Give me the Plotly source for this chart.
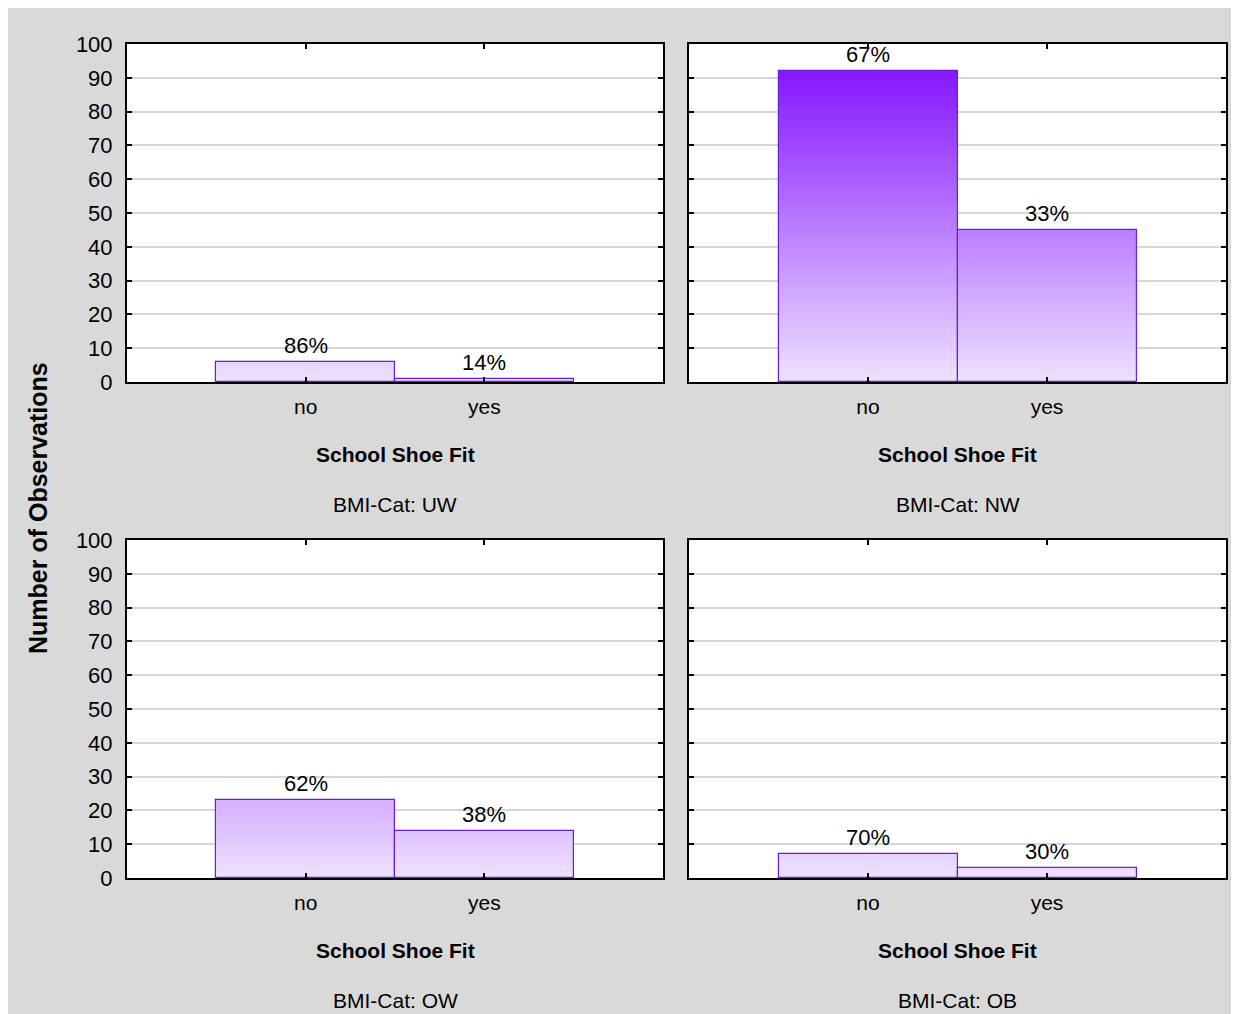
import plotly.graph_objects as go
from plotly.subplots import make_subplots

# data
categories = ["no", "yes"]
panel_names = ["UW", "NW", "OW", "OB"]
uw_counts = [6, 1]
nw_counts = [92, 45]
ow_counts = [23, 14]
ob_counts = [7, 3]
y_ticks = [0, 10, 20, 30, 40, 50, 60, 70, 80, 90, 100]

counts = [uw_counts, nw_counts, ow_counts, ob_counts]

W, H = 1231, 1006
FONT = "Liberation Sans, Arial, sans-serif"


def px(x):
    return (x - 8) / W


def py(y):
    return 1 - (y - 8) / H


def color_at(v):
    # vertical gradient: light lavender at 0, vivid violet at 100
    lo = (238, 226, 255)
    hi = (125, 5, 255)
    t = max(0.0, min(1.0, v / 100.0))
    r, g, b = (round(lo[i] + (hi[i] - lo[i]) * t) for i in range(3))
    return f"rgb({r},{g},{b})"


fig = make_subplots(rows=2, cols=2)

x_domains = [[px(127), px(663)], [px(689), px(1226)]]
y_domains = [[py(382), py(44)], [py(878), py(540)]]

step = 0.5
for i, vals in enumerate(counts):
    row, col = i // 2 + 1, i % 2 + 1

    # gradient fill: thin stacked slices
    seg_x, seg_base, seg_h, seg_c = [], [], [], []
    for cat, v in zip(categories, vals):
        k = 0.0
        while k < v:
            seg_x.append(cat)
            seg_base.append(k)
            seg_h.append(min(step * 1.6, v - k))
            seg_c.append(color_at(k + step / 2))
            k += step
    fig.add_trace(
        go.Bar(x=seg_x, y=seg_h, base=seg_base, width=1.0,
               marker=dict(color=seg_c, line=dict(width=0)),
               hoverinfo="skip", showlegend=False),
        row=row, col=col,
    )
    # outline
    fig.add_trace(
        go.Bar(x=categories, y=vals, width=1.0,
               marker=dict(color="rgba(0,0,0,0)", line=dict(color="#6a1de0", width=1.2)),
               showlegend=False),
        row=row, col=col,
    )

    total = sum(vals)
    xa = "x" if i == 0 else f"x{i + 1}"
    ya = "y" if i == 0 else f"y{i + 1}"
    for cat, v in zip(categories, vals):
        fig.add_annotation(
            x=cat, y=v, xref=xa, yref=ya, text=f"{round(100 * v / total)}%",
            showarrow=False, xanchor="center", yanchor="bottom", yshift=2,
            font=dict(family=FONT, size=22, color="black"),
        )

    xd = x_domains[col - 1]
    yd = y_domains[row - 1]
    fig.update_xaxes(
        domain=xd, range=[-1, 2], type="category", automargin=False,
        showline=True, linecolor="black", linewidth=2, mirror="ticks",
        ticks="inside", ticklen=5, tickwidth=1.5, tickcolor="black",
        showgrid=False, ticklabelstandoff=5,
        tickfont=dict(family=FONT, size=21, color="black"),
        row=row, col=col,
    )
    fig.update_yaxes(
        domain=yd, range=[0, 100], tickvals=y_ticks, automargin=False,
        showline=True, linecolor="black", linewidth=2, mirror="ticks",
        ticks="inside", ticklen=5, tickwidth=1.5, tickcolor="black",
        showgrid=True, gridcolor="#d6d6d6", gridwidth=1.5, zeroline=False,
        showticklabels=(col == 1), ticklabelstandoff=8,
        tickfont=dict(family=FONT, size=22, color="black"),
        row=row, col=col,
    )

    # axis title and panel caption
    cx = (xd[0] + xd[1]) / 2
    ax_y = 454 if row == 1 else 950
    cap_y = 504 if row == 1 else 1000
    fig.add_annotation(
        x=cx, y=py(ax_y), xref="paper", yref="paper", text="<b>School Shoe Fit</b>",
        showarrow=False, xanchor="center", yanchor="middle",
        font=dict(family=FONT, size=21, color="black"),
    )
    fig.add_annotation(
        x=cx, y=py(cap_y), xref="paper", yref="paper", text=f"BMI-Cat: {panel_names[i]}",
        showarrow=False, xanchor="center", yanchor="middle",
        font=dict(family=FONT, size=21, color="black"),
    )

fig.add_annotation(
    x=px(38), y=py(508), xref="paper", yref="paper", text="<b>Number of Observations</b>",
    textangle=-90, showarrow=False, xanchor="center", yanchor="middle",
    font=dict(family=FONT, size=25, color="black"),
)

fig.update_layout(
    width=W, height=H,
    margin=dict(l=0, r=0, t=0, b=0),
    paper_bgcolor="#d9d9d9", plot_bgcolor="white",
    barmode="overlay", bargap=0,
)

fig.write_html("out.html")
